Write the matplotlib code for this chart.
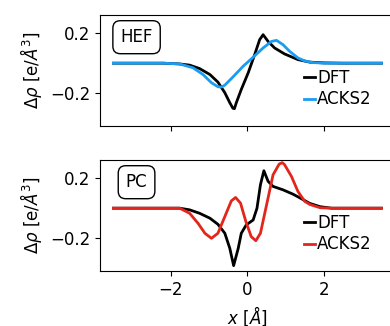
import matplotlib
matplotlib.use("Agg")
import matplotlib.pyplot as plt

# ---- data ----
hef_dft_x = [-3.5, -2.2, -1.77, -1.51, -1.25, -0.98, -0.77, -0.59, -0.46, -0.38, -0.34, -0.29, -0.16, 0.02, 0.19, 0.32, 0.41, 0.54, 0.71, 0.97, 1.32, 1.63, 2.0, 2.5, 3.5]
hef_dft_y = [0.0, 0.0, -0.005, -0.013, -0.036, -0.076, -0.127, -0.198, -0.265, -0.302, -0.305, -0.265, -0.176, -0.065, 0.058, 0.158, 0.191, 0.146, 0.102, 0.062, 0.024, 0.007, 0.002, 0.0, 0.0]

hef_acks_x = [-3.5, -2.2, -1.77, -1.42, -1.16, -0.94, -0.77, -0.68, -0.59, -0.38, -0.11, 0.15, 0.41, 0.63, 0.76, 0.93, 1.1, 1.32, 1.5, 1.71, 2.0, 3.5]
hef_acks_y = [0.0, 0.0, -0.005, -0.031, -0.076, -0.131, -0.158, -0.16, -0.147, -0.093, -0.02, 0.04, 0.102, 0.146, 0.153, 0.124, 0.08, 0.035, 0.015, 0.004, 0.0, 0.0]

pc_dft_x = [-3.5, -2.2, -1.77, -1.51, -1.25, -0.98, -0.77, -0.59, -0.46, -0.36, -0.24, -0.16, -0.03, 0.15, 0.25, 0.34, 0.43, 0.54, 0.67, 0.93, 1.19, 1.35, 1.63, 1.9, 2.2, 3.5]
pc_dft_y = [0.0, 0.0, 0.0, -0.011, -0.034, -0.067, -0.108, -0.168, -0.269, -0.385, -0.269, -0.168, -0.112, -0.079, 0.0, 0.157, 0.251, 0.18, 0.146, 0.123, 0.094, 0.072, 0.032, 0.01, 0.0, 0.0]

pc_acks_x = [-3.5, -2.2, -1.77, -1.51, -1.29, -1.11, -0.94, -0.77, -0.59, -0.42, -0.31, -0.18, -0.04, 0.10, 0.22, 0.34, 0.50, 0.67, 0.83, 0.91, 0.97, 1.15, 1.32, 1.5, 1.63, 1.9, 2.2, 3.5]
pc_acks_y = [0.0, 0.0, 0.0, -0.034, -0.101, -0.168, -0.202, -0.168, -0.056, 0.049, 0.072, 0.034, -0.09, -0.191, -0.218, -0.168, 0.022, 0.224, 0.296, 0.305, 0.292, 0.213, 0.112, 0.045, 0.025, 0.003, 0.0, 0.0]

x_ticks = [-2, 0, 2]
y_ticks = [-0.2, 0.2]
panel_labels = ["HEF", "PC"]
acks_colors = ["#1a9cf2", "#e3261b"]

fig = plt.figure(figsize=(3.9, 3.26), dpi=100)
ax1 = fig.add_axes([0.2564, 0.6135, 0.756, 0.3405])
ax2 = fig.add_axes([0.2564, 0.1687, 0.756, 0.3405])

panels = [
    (ax1, hef_dft_x, hef_dft_y, hef_acks_x, hef_acks_y),
    (ax2, pc_dft_x, pc_dft_y, pc_acks_x, pc_acks_y),
]
for i, (ax, dx, dy, ax_, ay) in enumerate(panels):
    ax.plot(dx, dy, color="black", lw=2, label="DFT", solid_joinstyle="round")
    ax.plot(ax_, ay, color=acks_colors[i], lw=2, label="ACKS2", solid_joinstyle="round")
    ax.set_xlim(-3.85, 3.85)
    ax.set_ylim(-0.421, 0.323)
    ax.set_xticks(x_ticks)
    ax.set_yticks(y_ticks)
    ax.set_yticklabels(["\u22120.2", "0.2"])
    ax.tick_params(labelsize=12)
    ax.set_ylabel(r"$\Delta\rho$ [e/$\AA^3$]", fontsize=12)
    ax.text(0.124, 0.80, panel_labels[i], transform=ax.transAxes, fontsize=12,
            ha="center", va="center",
            bbox=dict(boxstyle="round,pad=0.45", fc="white", ec="black"))
    ax.legend(loc="lower right", bbox_to_anchor=(0.944, 0.099), frameon=False, fontsize=12,
              handlelength=0.65, handletextpad=0.15, labelspacing=0.2, borderaxespad=0.0)

ax1.set_xticklabels([])
ax2.set_xticklabels(["\u22122", "0", "2"])
ax2.set_xlabel(r"$x$ [$\AA$]", fontsize=12)

fig.savefig("out.png", dpi=100)
